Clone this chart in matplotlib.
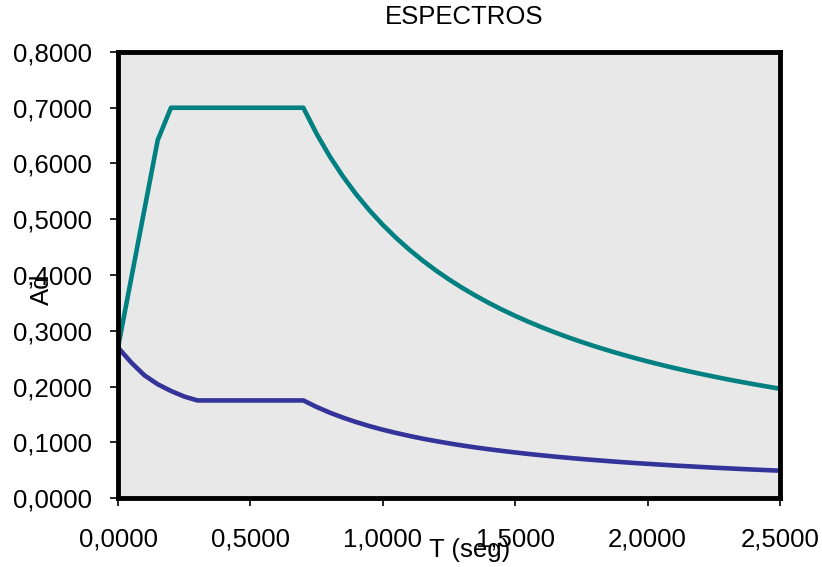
import numpy as np
import matplotlib.pyplot as plt
from matplotlib.ticker import FuncFormatter

plt.rcParams['font.family'] = ['Liberation Sans', 'DejaVu Sans']

# periodo T (seg) y aceleracion Ad - espectro elastico
t_elastic = [0.0, 0.15, 0.2, 0.3, 0.4, 0.5, 0.6, 0.7, 0.75, 0.8, 0.85, 0.9, 0.95, 1.0,
             1.05, 1.1, 1.15, 1.2, 1.25, 1.3, 1.35, 1.4, 1.45, 1.5, 1.55, 1.6, 1.65,
             1.7, 1.75, 1.8, 1.85, 1.9, 1.95, 2.0, 2.05, 2.1, 2.15, 2.2, 2.25, 2.3,
             2.35, 2.4, 2.45, 2.5]
ad_elastic = [0.270, 0.642, 0.700, 0.700, 0.700, 0.700, 0.700, 0.700, 0.6533, 0.6125,
              0.5765, 0.5444, 0.5158, 0.490, 0.4667, 0.4455, 0.4261, 0.4083, 0.392,
              0.3769, 0.363, 0.350, 0.3379, 0.3267, 0.3161, 0.3063, 0.297, 0.2882,
              0.280, 0.2722, 0.2649, 0.2579, 0.2513, 0.245, 0.239, 0.2333, 0.2279,
              0.2227, 0.2178, 0.2130, 0.2085, 0.2042, 0.200, 0.196]

# espectro inelastico
t_inel = [0.0, 0.05, 0.1, 0.15, 0.2, 0.25, 0.3, 0.4, 0.5, 0.6, 0.7, 0.75, 0.8, 0.85,
          0.9, 0.95, 1.0, 1.05, 1.1, 1.15, 1.2, 1.25, 1.3, 1.35, 1.4, 1.45, 1.5, 1.55,
          1.6, 1.65, 1.7, 1.75, 1.8, 1.85, 1.9, 1.95, 2.0, 2.05, 2.1, 2.15, 2.2, 2.25,
          2.3, 2.35, 2.4, 2.45, 2.5]
ad_inel = [0.270, 0.243, 0.220, 0.204, 0.192, 0.182, 0.175, 0.175, 0.175, 0.175, 0.175,
           0.1633, 0.1531, 0.1441, 0.1361, 0.1289, 0.1225, 0.1167, 0.1114, 0.1065,
           0.1021, 0.098, 0.0942, 0.0907, 0.0875, 0.0845, 0.0817, 0.079, 0.0766,
           0.0742, 0.0721, 0.070, 0.0681, 0.0662, 0.0645, 0.0628, 0.0613, 0.0598,
           0.0583, 0.057, 0.0557, 0.0544, 0.0533, 0.0521, 0.0510, 0.050, 0.0490]

fig = plt.figure(figsize=(8.22, 5.67), dpi=100)
ax = fig.add_axes([118/822, 1-498/567, 662/822, 446/567])
ax.set_facecolor('#e8e8e8')

ax.plot(t_elastic, ad_elastic, color='#008080', lw=3.3, solid_joinstyle='round')
ax.plot(t_inel, ad_inel, color='#333399', lw=3.3, solid_joinstyle='round')

ax.set_xlim(0, 2.5)
ax.set_ylim(0, 0.8)
ax.set_xticks(np.arange(0, 2.51, 0.5))
ax.set_yticks(np.arange(0, 0.81, 0.1))
fmt = FuncFormatter(lambda v, p: f"{v:.4f}".replace('.', ','))
ax.xaxis.set_major_formatter(fmt)
ax.yaxis.set_major_formatter(fmt)
ax.tick_params(direction='out', length=6, width=1.2, labelsize=18.5, pad=13)
ax.tick_params(axis='x', pad=15)

for s in ax.spines.values():
    s.set_linewidth(3.5)
    s.set_color('black')

fig.text(464/822, 1-17/567, 'ESPECTROS', ha='center', va='center', fontsize=18.5)
fig.text(470/822, 1-550/567, 'T (seg)', ha='center', va='center', fontsize=18.5)
fig.text(42/822, 1-289/567, 'Ad', ha='center', va='center', fontsize=18.5, rotation=90)

fig.savefig('out.png', dpi=100)
